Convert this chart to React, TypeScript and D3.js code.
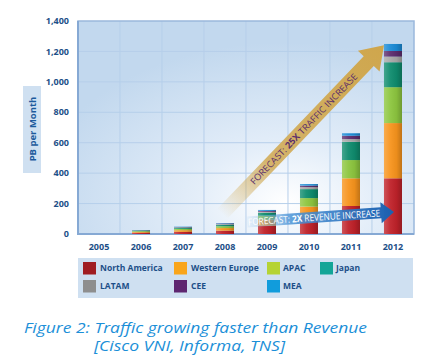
import React from "react";
import * as d3 from "d3";

const years = ["2005", "2006", "2007", "2008", "2009", "2010", "2011", "2012"];
const seriesNames = ["North America", "Western Europe", "APAC", "Japan", "LATAM", "CEE", "MEA"];
const northAmerica = [0, 8, 14, 22, 55, 105, 184, 366];
const westernEurope = [0, 6, 11, 17, 40, 75, 182, 363];
const apac = [0, 5, 9, 12, 25, 56, 120, 236];
const japan = [0, 4, 8, 10, 20, 59, 120, 164];
const latam = [0, 1, 2, 4, 6, 13, 18, 37];
const cee = [0, 1, 2, 4, 6, 10, 22, 37];
const mea = [0, 1, 2, 3, 6, 10, 16, 46];
const yTicks = [0, 200, 400, 600, 800, 1000, 1200, 1400];
const barColors = ["#c0222a", "#f7941d", "#8dc63f", "#0f8c6e", "#a8a8a8", "#5c2d6e", "#1b8bd6"];
const legendColors = ["#a01d22", "#f9a51b", "#b5d334", "#13a597", "#8e8e8e", "#5e2670", "#119cdc"];
const goldText = ["FORECAST: ", "25X", " TRAFFIC INCREASE"];
const blueText = ["FORECAST: ", "2X", " REVENUE INCREASE"];

const W = 428, H = 359;
const plotL = 78, plotR = 414, plotT = 21, plotB = 234;

export default function App() {
  const x = d3.scaleBand<string>().domain(years).range([plotL, plotR]).paddingInner(0.571).paddingOuter(0.286);
  const y = d3.scaleLinear().domain([0, 1400]).range([plotB, plotT]);
  const step = x.step();
  const bw = x.bandwidth();

  const table = years.map((yr, i) => {
    const row: any = { year: yr };
    const all = [northAmerica, westernEurope, apac, japan, latam, cee, mea];
    seriesNames.forEach((s, k) => (row[s] = all[k][i]));
    return row;
  });
  const stacked = d3.stack().keys(seriesNames)(table as any);

  // gold arrow (positioned through the scales)
  const gS = [x("2008")! + 6, y(131)];
  const gT = [x("2012")!, y(1240)];
  const gdx = gT[0] - gS[0], gdy = gT[1] - gS[1];
  const gLen = Math.hypot(gdx, gdy);
  const gAng = (Math.atan2(gdy, gdx) * 180) / Math.PI;
  const gw = 14, gHeadW = 30, gHeadL = 22;

  // blue arrow
  const bS = [x("2009")! - 11, y(79)];
  const bT = [x("2012")! + 10, y(145)];
  const bdx = bT[0] - bS[0], bdy = bT[1] - bS[1];
  const bLen = Math.hypot(bdx, bdy);
  const bAng = (Math.atan2(bdy, bdx) * 180) / Math.PI;
  const bwid = 11, bHeadW = 21, bHeadL = 13;

  const vLines = d3.range(1, years.length).map((i) => plotL + i * step);

  const legendItems = [
    { name: seriesNames[0], c: legendColors[0], sx: 83, tx: 100, row: 0 },
    { name: seriesNames[1], c: legendColors[1], sx: 174, tx: 191, row: 0 },
    { name: seriesNames[2], c: legendColors[2], sx: 267, tx: 283, row: 0 },
    { name: seriesNames[3], c: legendColors[3], sx: 320, tx: 336, row: 0 },
    { name: seriesNames[4], c: legendColors[4], sx: 83, tx: 100, row: 1 },
    { name: seriesNames[5], c: legendColors[5], sx: 174, tx: 191, row: 1 },
    { name: seriesNames[6], c: legendColors[6], sx: 267, tx: 283, row: 1 },
  ];

  const font = "'Open Sans', sans-serif";
  const dark = "#1d4f88";

  return (
    <svg width={W} height={H} style={{ position: "absolute", left: 0, top: 0, background: "#fff" }} fontFamily={font}>
      <defs>
        <radialGradient id="bgGrad" cx="0.62" cy="0.85" r="0.75">
          <stop offset="0" stopColor="#ffffff" />
          <stop offset="0.35" stopColor="#e4eef9" />
          <stop offset="1" stopColor="#c2d8ee" />
        </radialGradient>
        <linearGradient id="barShade" x1="0" x2="1" y1="0" y2="0">
          <stop offset="0" stopColor="#fff" stopOpacity="0.22" />
          <stop offset="0.35" stopColor="#fff" stopOpacity="0.05" />
          <stop offset="0.7" stopColor="#000" stopOpacity="0.05" />
          <stop offset="1" stopColor="#000" stopOpacity="0.22" />
        </linearGradient>
        <linearGradient id="goldGrad" x1="0" x2={gLen} y1="0" y2="0" gradientUnits="userSpaceOnUse">
          <stop offset="0" stopColor="#d2ad5a" stopOpacity="0" />
          <stop offset="0.3" stopColor="#d2ad5a" stopOpacity="0.9" />
          <stop offset="1" stopColor="#cfa64c" stopOpacity="1" />
        </linearGradient>
        <linearGradient id="blueGrad" x1="0" x2={bLen} y1="0" y2="0" gradientUnits="userSpaceOnUse">
          <stop offset="0" stopColor="#7fb8e8" stopOpacity="0.1" />
          <stop offset="0.3" stopColor="#4b93d6" stopOpacity="0.85" />
          <stop offset="1" stopColor="#1a5fb0" stopOpacity="1" />
        </linearGradient>
      </defs>

      {/* plot background */}
      <rect x={plotL} y={plotT} width={plotR - plotL} height={plotB - plotT} fill="url(#bgGrad)" />
      {yTicks.slice(1, -1).map((t) => (
        <line key={t} x1={plotL} x2={plotR} y1={y(t)} y2={y(t)} stroke="#b6cfea" strokeWidth={1} />
      ))}
      {vLines.map((vx) => (
        <line key={vx} x1={vx} x2={vx} y1={plotT} y2={plotB} stroke="#b6cfea" strokeWidth={1} />
      ))}
      <rect x={plotL} y={plotT} width={plotR - plotL} height={plotB - plotT} fill="none" stroke="#9ab8dc" strokeWidth={1.5} />
      <line x1={plotL} x2={plotL} y1={plotT} y2={plotB + 1} stroke="#86a9d4" strokeWidth={2} />
      <line x1={plotL} x2={plotR} y1={plotB} y2={plotB} stroke="#86a9d4" strokeWidth={2} />

      {/* gold arrow */}
      <g transform={`translate(${gS[0]},${gS[1]}) rotate(${gAng})`}>
        <path
          d={`M0,${-gw / 2} L${gLen - gHeadL},${-gw / 2} L${gLen - gHeadL},${-gHeadW / 2} L${gLen},0 L${gLen - gHeadL},${gHeadW / 2} L${gLen - gHeadL},${gw / 2} L0,${gw / 2} Z`}
          fill="url(#goldGrad)"
        />
        <text x={118} y={3.3} textAnchor="middle" fontSize={9} fill="#5a2d6b" textLength={150} lengthAdjust="spacingAndGlyphs">
          <tspan>{goldText[0]}</tspan>
          <tspan fontWeight="bold">{goldText[1]}</tspan>
          <tspan>{goldText[2]}</tspan>
        </text>
      </g>

      {/* bars */}
      {stacked.map((layer, k) => (
        <g key={seriesNames[k]}>
          {layer.map((d, i) =>
            d[1] - d[0] > 0 ? (
              <rect key={i} x={x(years[i])} y={y(d[1])} width={bw} height={y(d[0]) - y(d[1])} fill={barColors[k]} />
            ) : null
          )}
        </g>
      ))}
      {years.map((yr, i) => {
        const top = stacked[stacked.length - 1][i][1];
        return top > 0 ? (
          <rect key={yr} x={x(yr)} y={y(top)} width={bw} height={plotB - y(top)} fill="url(#barShade)" />
        ) : null;
      })}

      {/* blue arrow */}
      <g transform={`translate(${bS[0]},${bS[1]}) rotate(${bAng})`}>
        <path
          d={`M0,${-bwid / 2} L${bLen - bHeadL},${-bwid / 2} L${bLen - bHeadL},${-bHeadW / 2} L${bLen},0 L${bLen - bHeadL},${bHeadW / 2} L${bLen - bHeadL},${bwid / 2} L0,${bwid / 2} Z`}
          fill="url(#blueGrad)"
        />
        <text x={(bLen - bHeadL) / 2} y={3.5} textAnchor="middle" fontSize={9.5} fill="#ffffff" textLength={bLen - bHeadL - 2} lengthAdjust="spacingAndGlyphs">
          <tspan>{blueText[0]}</tspan>
          <tspan fontWeight="bold">{blueText[1]}</tspan>
          <tspan>{blueText[2]}</tspan>
        </text>
      </g>

      {/* y axis labels */}
      {yTicks.map((t) => (
        <text key={t} x={69} y={y(t) + 3.2} textAnchor="end" fontSize={9} fontWeight="bold" fill={dark}>
          {d3.format(",")(t)}
        </text>
      ))}
      {/* x axis labels */}
      {years.map((yr) => (
        <text key={yr} x={x(yr)! + bw / 2} y={249.5} textAnchor="middle" fontSize={9} fontWeight="bold" fill={dark}>
          {yr}
        </text>
      ))}

      {/* y title */}
      <rect x={23} y={86} width={18} height={87} fill="#cfe0f1" />
      <text transform="translate(35.5,129) rotate(-90)" textAnchor="middle" fontSize={9.5} fontWeight="bold" fill="#1d5a9c">
        PB per Month
      </text>

      {/* legend */}
      <rect x={78} y={258} width={335} height={40} fill="#cfe0f1" />
      {legendItems.map((it) => (
        <g key={it.name}>
          <rect x={it.sx} y={it.row === 0 ? 262 : 280} width={13} height={12.5} fill={it.c} />
          <text x={it.tx} y={(it.row === 0 ? 268 : 286) + 3.2} fontSize={8.5} fontWeight="bold" fill={dark}>
            {it.name}
          </text>
        </g>
      ))}

      {/* caption */}
      <text x={24} y={333} fontSize={14.5} fontStyle="italic" fill="#1b8fd8" textLength={343} lengthAdjust="spacingAndGlyphs">
        Figure 2: Traffic growing faster than Revenue
      </text>
      <text x={94} y={351} fontSize={14.5} fontStyle="italic" fill="#1b8fd8" textLength={191} lengthAdjust="spacingAndGlyphs">
        [Cisco VNI, Informa, TNS]
      </text>
    </svg>
  );
}
